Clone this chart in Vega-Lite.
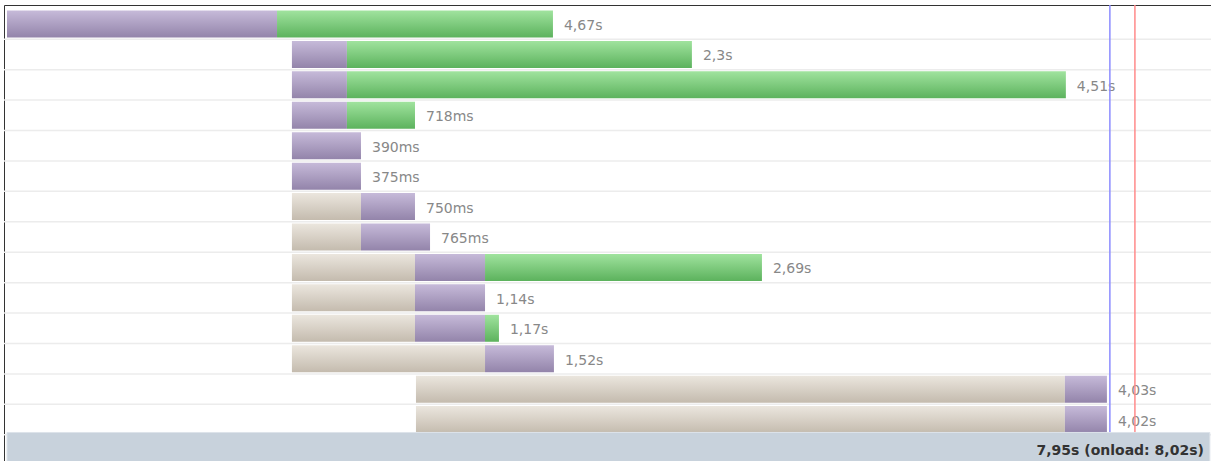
{
  "$schema": "https://vega.github.io/schema/vega-lite/v6.json",
  "width": 1207,
  "height": 464,
  "autosize": {"type": "none"},
  "padding": {"left": 4, "top": 5, "right": 0, "bottom": 0},
  "background": "white",
  "config": {"view": {"stroke": "#333333", "strokeWidth": 1}},
  "datasets": {
    "segs": [
      {"row": "r01", "phase": "wait", "start": 0, "end": 1920},
      {"row": "r01", "phase": "recv", "start": 1920, "end": 3882},
      {"row": "r02", "phase": "wait", "start": 2026, "end": 2417},
      {"row": "r02", "phase": "recv", "start": 2417, "end": 4870},
      {"row": "r03", "phase": "wait", "start": 2026, "end": 2417},
      {"row": "r03", "phase": "recv", "start": 2417, "end": 7529},
      {"row": "r04", "phase": "wait", "start": 2026, "end": 2417},
      {"row": "r04", "phase": "recv", "start": 2417, "end": 2901},
      {"row": "r05", "phase": "wait", "start": 2026, "end": 2517},
      {"row": "r06", "phase": "wait", "start": 2026, "end": 2517},
      {"row": "r07", "phase": "blocked", "start": 2026, "end": 2517},
      {"row": "r07", "phase": "wait", "start": 2517, "end": 2901},
      {"row": "r08", "phase": "blocked", "start": 2026, "end": 2517},
      {"row": "r08", "phase": "wait", "start": 2517, "end": 3008},
      {"row": "r09", "phase": "blocked", "start": 2026, "end": 2901},
      {"row": "r09", "phase": "wait", "start": 2901, "end": 3399},
      {"row": "r09", "phase": "recv", "start": 3399, "end": 5368},
      {"row": "r10", "phase": "blocked", "start": 2026, "end": 2901},
      {"row": "r10", "phase": "wait", "start": 2901, "end": 3399},
      {"row": "r11", "phase": "blocked", "start": 2026, "end": 2901},
      {"row": "r11", "phase": "wait", "start": 2901, "end": 3399},
      {"row": "r11", "phase": "recv", "start": 3399, "end": 3498},
      {"row": "r12", "phase": "blocked", "start": 2026, "end": 3399},
      {"row": "r12", "phase": "wait", "start": 3399, "end": 3889},
      {"row": "r13", "phase": "blocked", "start": 2908, "end": 7522},
      {"row": "r13", "phase": "wait", "start": 7522, "end": 7821},
      {"row": "r14", "phase": "blocked", "start": 2908, "end": 7522},
      {"row": "r14", "phase": "wait", "start": 7522, "end": 7821}
    ],
    "labels": [
      {"row": "r01", "end": 3882, "label": "4,67s"},
      {"row": "r02", "end": 4870, "label": "2,3s"},
      {"row": "r03", "end": 7529, "label": "4,51s"},
      {"row": "r04", "end": 2901, "label": "718ms"},
      {"row": "r05", "end": 2517, "label": "390ms"},
      {"row": "r06", "end": 2517, "label": "375ms"},
      {"row": "r07", "end": 2901, "label": "750ms"},
      {"row": "r08", "end": 3008, "label": "765ms"},
      {"row": "r09", "end": 5368, "label": "2,69s"},
      {"row": "r10", "end": 3399, "label": "1,14s"},
      {"row": "r11", "end": 3498, "label": "1,17s"},
      {"row": "r12", "end": 3889, "label": "1,52s"},
      {"row": "r13", "end": 7821, "label": "4,03s"},
      {"row": "r14", "end": 7821, "label": "4,02s"}
    ],
    "markers": [
      {"kind": "DOMContentLoaded", "t": 7842},
      {"kind": "onload", "t": 8020}
    ],
    "footer": [
      {"row": "zfooter", "start": 0, "end": 8553, "label": "7,95s (onload: 8,02s)"}
    ]
  },
  "encoding": {
    "y": {
      "field": "row",
      "type": "nominal",
      "axis": null,
      "scale": {
        "domain": ["r01","r02","r03","r04","r05","r06","r07","r08","r09","r10","r11","r12","r13","r14","zfooter"],
        "paddingInner": 0,
        "paddingOuter": 0.125
      }
    }
  },
  "resolve": {"scale": {"x": "shared", "y": "shared"}},
  "layer": [
    {
      "data": {"name": "labels"},
      "mark": {"type": "rule", "color": "#ececec", "strokeWidth": 1.5, "yOffset": 15.2},
      "encoding": {}
    },
    {
      "data": {"name": "segs"},
      "transform": [{"filter": "datum.phase === 'blocked'"}],
      "mark": {
        "type": "bar", "size": 27,
        "color": {"gradient": "linear", "x1": 0, "y1": 0, "x2": 0, "y2": 1,
          "stops": [{"offset": 0, "color": "#ebe6de"}, {"offset": 1, "color": "#c4bbae"}]}
      },
      "encoding": {
        "x": {"field": "start", "type": "quantitative", "axis": null,
              "scale": {"domain": [-21.3, 8561], "zero": false, "nice": false}},
        "x2": {"field": "end"}
      }
    },
    {
      "data": {"name": "segs"},
      "transform": [{"filter": "datum.phase === 'wait'"}],
      "mark": {
        "type": "bar", "size": 27,
        "color": {"gradient": "linear", "x1": 0, "y1": 0, "x2": 0, "y2": 1,
          "stops": [{"offset": 0, "color": "#c6bad9"}, {"offset": 1, "color": "#9384aa"}]}
      },
      "encoding": {
        "x": {"field": "start", "type": "quantitative"},
        "x2": {"field": "end"}
      }
    },
    {
      "data": {"name": "segs"},
      "transform": [{"filter": "datum.phase === 'recv'"}],
      "mark": {
        "type": "bar", "size": 27,
        "color": {"gradient": "linear", "x1": 0, "y1": 0, "x2": 0, "y2": 1,
          "stops": [{"offset": 0, "color": "#a0e39e"}, {"offset": 1, "color": "#5cb25d"}]}
      },
      "encoding": {
        "x": {"field": "start", "type": "quantitative"},
        "x2": {"field": "end"}
      }
    },
    {
      "data": {"name": "labels"},
      "mark": {"type": "text", "align": "left", "baseline": "middle", "dx": 11, "dy": 2,
               "font": "DejaVu Sans", "fontSize": 14, "color": "#888888"},
      "encoding": {
        "x": {"field": "end", "type": "quantitative"},
        "text": {"field": "label"}
      }
    },
    {
      "data": {"name": "markers"},
      "mark": {"type": "rule", "strokeWidth": 1.5},
      "encoding": {
        "x": {"field": "t", "type": "quantitative"},
        "y": null,
        "color": {"field": "kind", "type": "nominal", "legend": null,
                  "scale": {"domain": ["DOMContentLoaded", "onload"], "range": ["#8c8cff", "#ff8a8a"]}}
      }
    },
    {
      "data": {"name": "footer"},
      "mark": {"type": "bar", "size": 35, "color": "#c8d2dc", "stroke": "#dde3ea", "strokeWidth": 1},
      "encoding": {
        "x": {"field": "start", "type": "quantitative"},
        "x2": {"field": "end"}
      }
    },
    {
      "data": {"name": "footer"},
      "mark": {"type": "text", "align": "right", "baseline": "middle", "dx": -6, "dy": 1,
               "font": "DejaVu Sans", "fontSize": 14, "fontWeight": "bold", "color": "#333333"},
      "encoding": {
        "x": {"field": "end", "type": "quantitative"},
        "text": {"field": "label"}
      }
    }
  ]
}
